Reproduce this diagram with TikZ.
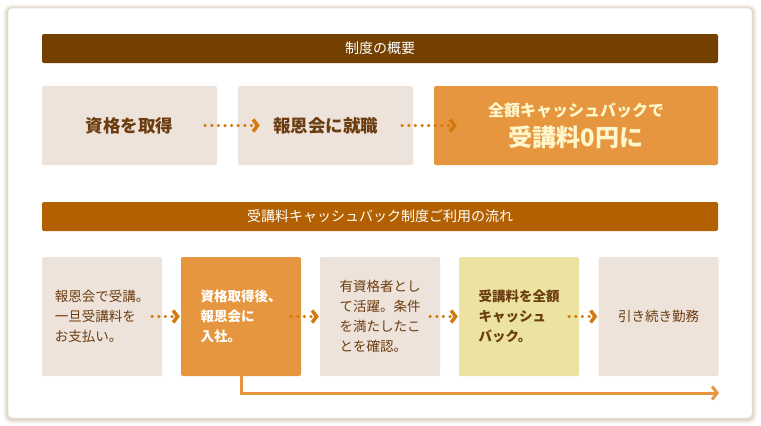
\documentclass[tikz,border=0pt]{standalone}
\usepackage{fontspec}
\setmainfont{Noto Sans CJK JP}
\usetikzlibrary{arrows.meta}

\definecolor{barA}{HTML}{744000}
\definecolor{barB}{HTML}{B36100}
\definecolor{beige}{HTML}{EDE3DA}
\definecolor{orng}{HTML}{E6963F}
\definecolor{ylw}{HTML}{ECE3A0}
\definecolor{brwn}{HTML}{6B3C10}
\definecolor{dotc}{HTML}{D07A10}
\definecolor{cream}{HTML}{FFF7CC}
\definecolor{shadc}{HTML}{D9CDB8}

\tikzset{
  bar/.style={fill=#1, minimum width=676pt, minimum height=29pt, rounded corners=2pt,
    text=white, font=\fontsize{14pt}{16pt}\selectfont},
  topbox/.style={fill=#1, minimum height=79pt, rounded corners=2pt, inner sep=0pt},
  flowbox/.style={fill=#1, minimum width=120pt, minimum height=119pt, rounded corners=2pt,
    inner sep=0pt, align=left, text=brwn, font=\fontsize{13.5pt}{20pt}\selectfont},
  dotarrow/.style={draw=dotc, line width=3.5pt, line cap=round, dash pattern=on 0pt off 6.6pt,
    -{Straight Barb[length=4.5pt,width=12pt,line width=3.5pt]}},
}

\begin{document}
\begin{tikzpicture}[x=1pt,y=-1pt]
\useasboundingbox (0,0) rectangle (761,426);
% card with soft shadow
\foreach \s/\o in {5/0.12,4/0.18,3/0.25,2/0.35,1/0.5}
  \fill[shadc, opacity=\o, rounded corners=4pt+\s pt] (8-\s,8-\s+1) rectangle (752+\s,418+\s+1);
\fill[white, draw=black!12, line width=0.5pt, rounded corners=4pt] (8,8) rectangle (752,418);

% overview
\node[bar=barA] (hdA) at (380,48.5) {制度の概要};
\node[topbox=beige, minimum width=175pt, text=brwn, font=\fontsize{17.5pt}{20pt}\selectfont\bfseries]
  (t1) at (129.5,125.5) {資格を取得};
\node[topbox=beige, minimum width=175pt, text=brwn, font=\fontsize{17.5pt}{20pt}\selectfont\bfseries]
  (t2) at (325.5,125.5) {報恩会に就職};
\node[topbox=orng, minimum width=284pt, text=cream, align=center,
  font=\fontsize{24pt}{30pt}\selectfont\bfseries]
  (t3) at (576,125.5) {{\fontsize{16pt}{30pt}\selectfont 全額キャッシュバックで}\\受講料0円に};
\draw[dotarrow] ([xshift=-12pt]t1.east) -- ([xshift=22pt]t2.west);
\draw[dotarrow] ([xshift=-11pt]t2.east) -- ([xshift=23pt]t3.west);

% flow
\node[bar=barB] (hdB) at (380,216.5) {受講料キャッシュバック制度ご利用の流れ};
\node[flowbox=beige] (f1) at (102,316.5) {報恩会で受講。\\一旦受講料を\\お支払い。};
\node[flowbox=orng, text=white, font=\fontsize{13.5pt}{20pt}\selectfont\bfseries]
  (f2) at (241,316.5) {資格取得後、\\報恩会に\\入社。};
\node[flowbox=beige] (f3) at (380,316.5) {有資格者とし\\て活躍。条件\\を満たしたこ\\とを確認。};
\node[flowbox=ylw, font=\fontsize{13.5pt}{20pt}\selectfont\bfseries]
  (f4) at (519,316.5) {受講料を全額\\キャッシュ\\バック。};
\node[flowbox=beige] (f5) at (658.5,316.5) {引き続き勤務};
\draw[dotarrow] ([xshift=-10pt]f1.east) -- ([xshift=-1pt]f2.west);
\draw[dotarrow] ([xshift=-10pt]f2.east) -- ([xshift=-1pt]f3.west);
\draw[dotarrow] ([xshift=-10pt]f3.east) -- ([xshift=-1pt]f4.west);
\draw[dotarrow] ([xshift=-10pt]f4.east) -- ([xshift=-1pt]f5.west);

\coordinate (lineend) at (719,393);
\draw[orng, line width=3pt, -{Straight Barb[length=5pt,width=13pt,line width=3pt]}]
  (f2.south) |- (lineend);
\end{tikzpicture}
\end{document}
